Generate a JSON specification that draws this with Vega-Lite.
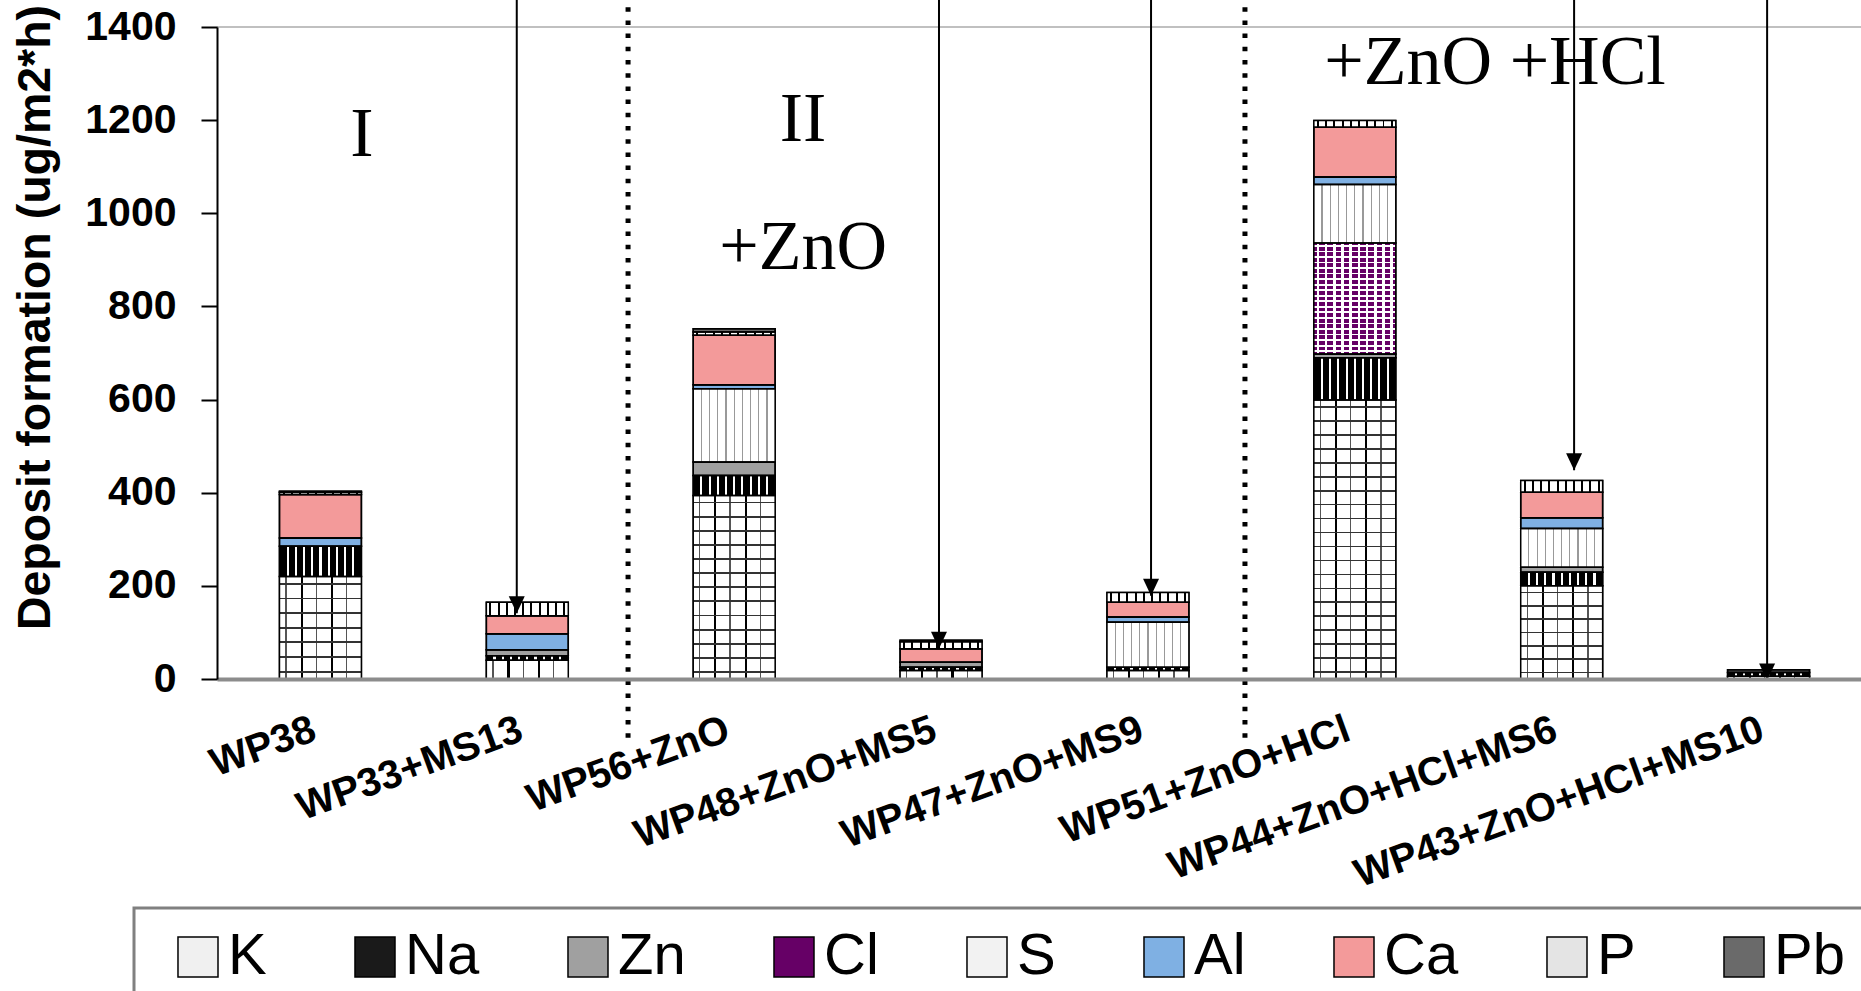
{
"$schema": "https://vega.github.io/schema/vega-lite/v6.json",
"width": 1644, "height": 652,
"autosize": {"type": "none"},
"padding": {"left": 217, "top": 27, "right": 0, "bottom": 312},
"background": "white",
"config": {"view": {"stroke": null}, "font": "Liberation Sans"},
"resolve": {"scale": {"x": "independent"}},
"layer": [
{
"data": {"values": [
{"sample":"WP38","element":"K","value":220},
{"sample":"WP38","element":"Na","value":65},
{"sample":"WP38","element":"Al","value":18},
{"sample":"WP38","element":"Ca","value":93},
{"sample":"WP38","element":"P","value":5},
{"sample":"WP38","element":"Pb","value":2},
{"sample":"WP33+MS13","element":"K","value":40},
{"sample":"WP33+MS13","element":"Na","value":10},
{"sample":"WP33+MS13","element":"Zn","value":13},
{"sample":"WP33+MS13","element":"Al","value":34},
{"sample":"WP33+MS13","element":"Ca","value":39},
{"sample":"WP33+MS13","element":"P","value":29},
{"sample":"WP56+ZnO","element":"K","value":394},
{"sample":"WP56+ZnO","element":"Na","value":43},
{"sample":"WP56+ZnO","element":"Zn","value":29},
{"sample":"WP56+ZnO","element":"S","value":157},
{"sample":"WP56+ZnO","element":"Al","value":9},
{"sample":"WP56+ZnO","element":"Ca","value":106},
{"sample":"WP56+ZnO","element":"P","value":7},
{"sample":"WP56+ZnO","element":"Pb","value":7},
{"sample":"WP48+ZnO+MS5","element":"K","value":18},
{"sample":"WP48+ZnO+MS5","element":"Na","value":7},
{"sample":"WP48+ZnO+MS5","element":"Zn","value":11},
{"sample":"WP48+ZnO+MS5","element":"Ca","value":29},
{"sample":"WP48+ZnO+MS5","element":"P","value":15},
{"sample":"WP48+ZnO+MS5","element":"Pb","value":3},
{"sample":"WP47+ZnO+MS9","element":"K","value":18},
{"sample":"WP47+ZnO+MS9","element":"Na","value":7},
{"sample":"WP47+ZnO+MS9","element":"S","value":97},
{"sample":"WP47+ZnO+MS9","element":"Al","value":11},
{"sample":"WP47+ZnO+MS9","element":"Ca","value":32},
{"sample":"WP47+ZnO+MS9","element":"P","value":21},
{"sample":"WP51+ZnO+HCl","element":"K","value":599},
{"sample":"WP51+ZnO+HCl","element":"Na","value":91},
{"sample":"WP51+ZnO+HCl","element":"Zn","value":8},
{"sample":"WP51+ZnO+HCl","element":"Cl","value":238},
{"sample":"WP51+ZnO+HCl","element":"S","value":126},
{"sample":"WP51+ZnO+HCl","element":"Al","value":16},
{"sample":"WP51+ZnO+HCl","element":"Ca","value":107},
{"sample":"WP51+ZnO+HCl","element":"P","value":14},
{"sample":"WP44+ZnO+HCl+MS6","element":"K","value":200},
{"sample":"WP44+ZnO+HCl+MS6","element":"Na","value":29},
{"sample":"WP44+ZnO+HCl+MS6","element":"Zn","value":11},
{"sample":"WP44+ZnO+HCl+MS6","element":"S","value":83},
{"sample":"WP44+ZnO+HCl+MS6","element":"Al","value":23},
{"sample":"WP44+ZnO+HCl+MS6","element":"Ca","value":55},
{"sample":"WP44+ZnO+HCl+MS6","element":"P","value":25},
{"sample":"WP43+ZnO+HCl+MS10","element":"K","value":6},
{"sample":"WP43+ZnO+HCl+MS10","element":"Na","value":8},
{"sample":"WP43+ZnO+HCl+MS10","element":"Pb","value":6}
]},
"transform": [{"stack": "value", "groupby": ["sample"], "as": ["y0", "y1"]}],
"layer": [
{
"mark": {"type": "bar", "stroke": "black", "strokeWidth": 1.5},
"encoding": {
"x": {"field": "sample", "type": "nominal",
 "scale": {"domain": ["WP38","WP33+MS13","WP56+ZnO","WP48+ZnO+MS5","WP47+ZnO+MS9","WP51+ZnO+HCl","WP44+ZnO+HCl+MS6","WP43+ZnO+HCl+MS10"], "range": [0, 1655], "paddingInner": 0.604, "paddingOuter": 0.302},
 "axis": {"title": null, "labelAngle": -20, "labelAlign": "right", "labelBaseline": "top", "labelPadding": 30, "labelOffset": -13, "ticks": false, "tickSize": 0, "domainColor": "#8c8c8c", "domainWidth": 4, "labelFont": "Liberation Sans", "labelFontWeight": "bold", "labelFontSize": 40, "labelColor": "black", "labelLimit": 1000, "labelOverlap": false, "grid": false, "zindex": 1}},
"y": {"field": "y0", "type": "quantitative", "scale": {"domain": [0, 1400], "nice": false},
 "axis": {"title": "Deposit formation (ug/m2*h)", "values": [0,200,400,600,800,1000,1200,1400], "format": "d", "grid": false, "domain": true, "domainColor": "black", "domainWidth": 2, "ticks": true, "tickColor": "black", "tickWidth": 2, "tickSize": 16, "labelPadding": 25, "labelFont": "Liberation Sans", "labelFontWeight": "bold", "labelFontSize": 41, "labelColor": "black", "titleFont": "Liberation Sans", "titleFontWeight": "bold", "titleFontSize": 46.5, "titleColor": "black", "titleX": -168, "titleY": 290, "titleBaseline": "alphabetic", "titleAlign": "center", "titleAngle": 270, "zindex": 1}},
"y2": {"field": "y1"},
"color": {"field": "element", "type": "nominal",
 "scale": {"domain": ["K","Na","Zn","Cl","S","Al","Ca","P","Pb"], "range": ["#f0f0f0","#1a1a1a","#a0a0a0","#660066","#f2f2f2","#7fb0e3","#f39a9a","#e4e4e4","#6a6a6a"]},
 "legend": {"orient": "none", "legendX": -83, "legendY": 881, "direction": "horizontal", "title": null,
  "symbolType": "M-0.179,-0.714H1.25V0.714H-0.179Z", "symbolSize": 3136, "symbolStrokeColor": "black", "symbolStrokeWidth": 1.5, "symbolOpacity": 1,
  "labelFont": "Liberation Sans", "labelFontSize": 58, "labelColor": "black", "labelOffset": 16, "labelLimit": 500,
  "columnPadding": 64, "padding": 20, "strokeColor": "#808080", "fillColor": "white",
  "encode": {"legend": {"update": {"strokeWidth": {"value": 3}}}}}}
}
},
{
"transform": [{"filter": {"field": "element", "equal": "K"}}],
"mark": {"type": "bar", "fill": {"gradient": "linear", "x1": 0, "y1": 0, "x2": 1, "y2": 0, "stops": [
{"offset":0,"color":"#fff"},
{"offset":0.072,"color":"#fff"},{"offset":0.072,"color":"#555"},{"offset":0.088,"color":"#555"},{"offset":0.088,"color":"#fff"},
{"offset":0.257,"color":"#fff"},{"offset":0.257,"color":"#000"},{"offset":0.283,"color":"#000"},{"offset":0.283,"color":"#fff"},
{"offset":0.442,"color":"#fff"},{"offset":0.442,"color":"#555"},{"offset":0.458,"color":"#555"},{"offset":0.458,"color":"#fff"},
{"offset":0.627,"color":"#fff"},{"offset":0.627,"color":"#000"},{"offset":0.653,"color":"#000"},{"offset":0.653,"color":"#fff"},
{"offset":0.812,"color":"#fff"},{"offset":0.812,"color":"#555"},{"offset":0.828,"color":"#555"},{"offset":0.828,"color":"#fff"},
{"offset":1,"color":"#fff"}]}},
"encoding": {
"x": {"field": "sample", "type": "nominal", "scale": {"domain": ["WP38","WP33+MS13","WP56+ZnO","WP48+ZnO+MS5","WP47+ZnO+MS9","WP51+ZnO+HCl","WP44+ZnO+HCl+MS6","WP43+ZnO+HCl+MS10"], "range": [0, 1655], "paddingInner": 0.604, "paddingOuter": 0.302}},
"y": {"field": "y0", "type": "quantitative", "scale": {"domain": [0, 1400], "nice": false}},
"y2": {"field": "y1"}}
},
{
"transform": [{"filter": {"and": [{"field": "element", "equal": "K"}, {"field": "sample", "equal": "WP51+ZnO+HCl"}]}}],
"mark": {"type": "bar", "fill": {"gradient": "linear", "x1": 0, "y1": 0, "x2": 0, "y2": 1, "stops": [
{"offset":0,"color":"rgba(0,0,0,0)"},
{"offset":0.022,"color":"rgba(0,0,0,0)"},{"offset":0.022,"color":"#333"},{"offset":0.028,"color":"#333"},{"offset":0.028,"color":"rgba(0,0,0,0)"},
{"offset":0.072,"color":"rgba(0,0,0,0)"},{"offset":0.072,"color":"#333"},{"offset":0.078,"color":"#333"},{"offset":0.078,"color":"rgba(0,0,0,0)"},
{"offset":0.122,"color":"rgba(0,0,0,0)"},{"offset":0.122,"color":"#333"},{"offset":0.128,"color":"#333"},{"offset":0.128,"color":"rgba(0,0,0,0)"},
{"offset":0.172,"color":"rgba(0,0,0,0)"},{"offset":0.172,"color":"#333"},{"offset":0.178,"color":"#333"},{"offset":0.178,"color":"rgba(0,0,0,0)"},
{"offset":0.222,"color":"rgba(0,0,0,0)"},{"offset":0.222,"color":"#333"},{"offset":0.228,"color":"#333"},{"offset":0.228,"color":"rgba(0,0,0,0)"},
{"offset":0.272,"color":"rgba(0,0,0,0)"},{"offset":0.272,"color":"#333"},{"offset":0.278,"color":"#333"},{"offset":0.278,"color":"rgba(0,0,0,0)"},
{"offset":0.322,"color":"rgba(0,0,0,0)"},{"offset":0.322,"color":"#333"},{"offset":0.328,"color":"#333"},{"offset":0.328,"color":"rgba(0,0,0,0)"},
{"offset":0.372,"color":"rgba(0,0,0,0)"},{"offset":0.372,"color":"#333"},{"offset":0.378,"color":"#333"},{"offset":0.378,"color":"rgba(0,0,0,0)"},
{"offset":0.422,"color":"rgba(0,0,0,0)"},{"offset":0.422,"color":"#333"},{"offset":0.428,"color":"#333"},{"offset":0.428,"color":"rgba(0,0,0,0)"},
{"offset":0.472,"color":"rgba(0,0,0,0)"},{"offset":0.472,"color":"#333"},{"offset":0.478,"color":"#333"},{"offset":0.478,"color":"rgba(0,0,0,0)"},
{"offset":0.522,"color":"rgba(0,0,0,0)"},{"offset":0.522,"color":"#333"},{"offset":0.528,"color":"#333"},{"offset":0.528,"color":"rgba(0,0,0,0)"},
{"offset":0.572,"color":"rgba(0,0,0,0)"},{"offset":0.572,"color":"#333"},{"offset":0.578,"color":"#333"},{"offset":0.578,"color":"rgba(0,0,0,0)"},
{"offset":0.622,"color":"rgba(0,0,0,0)"},{"offset":0.622,"color":"#333"},{"offset":0.628,"color":"#333"},{"offset":0.628,"color":"rgba(0,0,0,0)"},
{"offset":0.672,"color":"rgba(0,0,0,0)"},{"offset":0.672,"color":"#333"},{"offset":0.678,"color":"#333"},{"offset":0.678,"color":"rgba(0,0,0,0)"},
{"offset":0.722,"color":"rgba(0,0,0,0)"},{"offset":0.722,"color":"#333"},{"offset":0.728,"color":"#333"},{"offset":0.728,"color":"rgba(0,0,0,0)"},
{"offset":0.772,"color":"rgba(0,0,0,0)"},{"offset":0.772,"color":"#333"},{"offset":0.778,"color":"#333"},{"offset":0.778,"color":"rgba(0,0,0,0)"},
{"offset":0.822,"color":"rgba(0,0,0,0)"},{"offset":0.822,"color":"#333"},{"offset":0.828,"color":"#333"},{"offset":0.828,"color":"rgba(0,0,0,0)"},
{"offset":0.872,"color":"rgba(0,0,0,0)"},{"offset":0.872,"color":"#333"},{"offset":0.878,"color":"#333"},{"offset":0.878,"color":"rgba(0,0,0,0)"},
{"offset":0.922,"color":"rgba(0,0,0,0)"},{"offset":0.922,"color":"#333"},{"offset":0.928,"color":"#333"},{"offset":0.928,"color":"rgba(0,0,0,0)"},
{"offset":0.972,"color":"rgba(0,0,0,0)"},{"offset":0.972,"color":"#333"},{"offset":0.978,"color":"#333"},{"offset":0.978,"color":"rgba(0,0,0,0)"},
{"offset":1,"color":"rgba(0,0,0,0)"}]}},
"encoding": {
"x": {"field": "sample", "type": "nominal", "scale": {"domain": ["WP38","WP33+MS13","WP56+ZnO","WP48+ZnO+MS5","WP47+ZnO+MS9","WP51+ZnO+HCl","WP44+ZnO+HCl+MS6","WP43+ZnO+HCl+MS10"], "range": [0, 1655], "paddingInner": 0.604, "paddingOuter": 0.302}},
"y": {"field": "y0", "type": "quantitative", "scale": {"domain": [0, 1400], "nice": false}},
"y2": {"field": "y1"}}
},
{
"transform": [{"filter": {"and": [{"field": "element", "equal": "K"}, {"field": "sample", "equal": "WP56+ZnO"}]}}],
"mark": {"type": "bar", "fill": {"gradient": "linear", "x1": 0, "y1": 0, "x2": 0, "y2": 1, "stops": [
{"offset":0,"color":"rgba(0,0,0,0)"},
{"offset":0.0335,"color":"rgba(0,0,0,0)"},{"offset":0.0335,"color":"#333"},{"offset":0.0435,"color":"#333"},{"offset":0.0435,"color":"rgba(0,0,0,0)"},
{"offset":0.1104,"color":"rgba(0,0,0,0)"},{"offset":0.1104,"color":"#333"},{"offset":0.1204,"color":"#333"},{"offset":0.1204,"color":"rgba(0,0,0,0)"},
{"offset":0.1873,"color":"rgba(0,0,0,0)"},{"offset":0.1873,"color":"#333"},{"offset":0.1973,"color":"#333"},{"offset":0.1973,"color":"rgba(0,0,0,0)"},
{"offset":0.2642,"color":"rgba(0,0,0,0)"},{"offset":0.2642,"color":"#333"},{"offset":0.2742,"color":"#333"},{"offset":0.2742,"color":"rgba(0,0,0,0)"},
{"offset":0.3412,"color":"rgba(0,0,0,0)"},{"offset":0.3412,"color":"#333"},{"offset":0.3512,"color":"#333"},{"offset":0.3512,"color":"rgba(0,0,0,0)"},
{"offset":0.4181,"color":"rgba(0,0,0,0)"},{"offset":0.4181,"color":"#333"},{"offset":0.4281,"color":"#333"},{"offset":0.4281,"color":"rgba(0,0,0,0)"},
{"offset":0.495,"color":"rgba(0,0,0,0)"},{"offset":0.495,"color":"#333"},{"offset":0.505,"color":"#333"},{"offset":0.505,"color":"rgba(0,0,0,0)"},
{"offset":0.5719,"color":"rgba(0,0,0,0)"},{"offset":0.5719,"color":"#333"},{"offset":0.5819,"color":"#333"},{"offset":0.5819,"color":"rgba(0,0,0,0)"},
{"offset":0.6488,"color":"rgba(0,0,0,0)"},{"offset":0.6488,"color":"#333"},{"offset":0.6588,"color":"#333"},{"offset":0.6588,"color":"rgba(0,0,0,0)"},
{"offset":0.7258,"color":"rgba(0,0,0,0)"},{"offset":0.7258,"color":"#333"},{"offset":0.7358,"color":"#333"},{"offset":0.7358,"color":"rgba(0,0,0,0)"},
{"offset":0.8027,"color":"rgba(0,0,0,0)"},{"offset":0.8027,"color":"#333"},{"offset":0.8127,"color":"#333"},{"offset":0.8127,"color":"rgba(0,0,0,0)"},
{"offset":0.8796,"color":"rgba(0,0,0,0)"},{"offset":0.8796,"color":"#333"},{"offset":0.8896,"color":"#333"},{"offset":0.8896,"color":"rgba(0,0,0,0)"},
{"offset":0.9565,"color":"rgba(0,0,0,0)"},{"offset":0.9565,"color":"#333"},{"offset":0.9665,"color":"#333"},{"offset":0.9665,"color":"rgba(0,0,0,0)"},
{"offset":1,"color":"rgba(0,0,0,0)"}]}},
"encoding": {
"x": {"field": "sample", "type": "nominal", "scale": {"domain": ["WP38","WP33+MS13","WP56+ZnO","WP48+ZnO+MS5","WP47+ZnO+MS9","WP51+ZnO+HCl","WP44+ZnO+HCl+MS6","WP43+ZnO+HCl+MS10"], "range": [0, 1655], "paddingInner": 0.604, "paddingOuter": 0.302}},
"y": {"field": "y0", "type": "quantitative", "scale": {"domain": [0, 1400], "nice": false}},
"y2": {"field": "y1"}}
},
{
"transform": [{"filter": {"and": [{"field": "element", "equal": "K"}, {"field": "sample", "oneOf": ["WP38", "WP44+ZnO+HCl+MS6"]}]}}],
"mark": {"type": "bar", "fill": {"gradient": "linear", "x1": 0, "y1": 0, "x2": 0, "y2": 1, "stops": [
{"offset":0,"color":"rgba(0,0,0,0)"},
{"offset":0.0624,"color":"rgba(0,0,0,0)"},{"offset":0.0624,"color":"#333"},{"offset":0.0804,"color":"#333"},{"offset":0.0804,"color":"rgba(0,0,0,0)"},
{"offset":0.2053,"color":"rgba(0,0,0,0)"},{"offset":0.2053,"color":"#333"},{"offset":0.2233,"color":"#333"},{"offset":0.2233,"color":"rgba(0,0,0,0)"},
{"offset":0.3481,"color":"rgba(0,0,0,0)"},{"offset":0.3481,"color":"#333"},{"offset":0.3661,"color":"#333"},{"offset":0.3661,"color":"rgba(0,0,0,0)"},
{"offset":0.491,"color":"rgba(0,0,0,0)"},{"offset":0.491,"color":"#333"},{"offset":0.509,"color":"#333"},{"offset":0.509,"color":"rgba(0,0,0,0)"},
{"offset":0.6339,"color":"rgba(0,0,0,0)"},{"offset":0.6339,"color":"#333"},{"offset":0.6519,"color":"#333"},{"offset":0.6519,"color":"rgba(0,0,0,0)"},
{"offset":0.7767,"color":"rgba(0,0,0,0)"},{"offset":0.7767,"color":"#333"},{"offset":0.7947,"color":"#333"},{"offset":0.7947,"color":"rgba(0,0,0,0)"},
{"offset":0.9196,"color":"rgba(0,0,0,0)"},{"offset":0.9196,"color":"#333"},{"offset":0.9376,"color":"#333"},{"offset":0.9376,"color":"rgba(0,0,0,0)"},
{"offset":1,"color":"rgba(0,0,0,0)"}]}},
"encoding": {
"x": {"field": "sample", "type": "nominal", "scale": {"domain": ["WP38","WP33+MS13","WP56+ZnO","WP48+ZnO+MS5","WP47+ZnO+MS9","WP51+ZnO+HCl","WP44+ZnO+HCl+MS6","WP43+ZnO+HCl+MS10"], "range": [0, 1655], "paddingInner": 0.604, "paddingOuter": 0.302}},
"y": {"field": "y0", "type": "quantitative", "scale": {"domain": [0, 1400], "nice": false}},
"y2": {"field": "y1"}}
},
{
"transform": [{"filter": {"field": "element", "equal": "Na"}}],
"mark": {"type": "bar", "fill": {"gradient": "linear", "x1": 0, "y1": 0, "x2": 1, "y2": 0, "stops": [
{"offset":0,"color":"#000"},
{"offset":0.087,"color":"#000"},{"offset":0.087,"color":"#fff"},{"offset":0.113,"color":"#fff"},{"offset":0.113,"color":"#000"},
{"offset":0.187,"color":"#000"},{"offset":0.187,"color":"#fff"},{"offset":0.213,"color":"#fff"},{"offset":0.213,"color":"#000"},
{"offset":0.287,"color":"#000"},{"offset":0.287,"color":"#fff"},{"offset":0.313,"color":"#fff"},{"offset":0.313,"color":"#000"},
{"offset":0.387,"color":"#000"},{"offset":0.387,"color":"#fff"},{"offset":0.413,"color":"#fff"},{"offset":0.413,"color":"#000"},
{"offset":0.487,"color":"#000"},{"offset":0.487,"color":"#fff"},{"offset":0.513,"color":"#fff"},{"offset":0.513,"color":"#000"},
{"offset":0.587,"color":"#000"},{"offset":0.587,"color":"#fff"},{"offset":0.613,"color":"#fff"},{"offset":0.613,"color":"#000"},
{"offset":0.687,"color":"#000"},{"offset":0.687,"color":"#fff"},{"offset":0.713,"color":"#fff"},{"offset":0.713,"color":"#000"},
{"offset":0.787,"color":"#000"},{"offset":0.787,"color":"#fff"},{"offset":0.813,"color":"#fff"},{"offset":0.813,"color":"#000"},
{"offset":0.887,"color":"#000"},{"offset":0.887,"color":"#fff"},{"offset":0.913,"color":"#fff"},{"offset":0.913,"color":"#000"},
{"offset":1,"color":"#000"}]}},
"encoding": {
"x": {"field": "sample", "type": "nominal", "scale": {"domain": ["WP38","WP33+MS13","WP56+ZnO","WP48+ZnO+MS5","WP47+ZnO+MS9","WP51+ZnO+HCl","WP44+ZnO+HCl+MS6","WP43+ZnO+HCl+MS10"], "range": [0, 1655], "paddingInner": 0.604, "paddingOuter": 0.302}},
"y": {"field": "y0", "type": "quantitative", "scale": {"domain": [0, 1400], "nice": false}},
"y2": {"field": "y1"}}
},
{
"transform": [{"filter": {"field": "element", "equal": "Cl"}}],
"mark": {"type": "bar", "fill": {"gradient": "linear", "x1": 0, "y1": 0, "x2": 1, "y2": 0, "stops": [
{"offset":0,"color":"#660066"},
{"offset":0.035,"color":"#660066"},{"offset":0.035,"color":"#fff"},{"offset":0.065,"color":"#fff"},{"offset":0.065,"color":"#660066"},
{"offset":0.135,"color":"#660066"},{"offset":0.135,"color":"#fff"},{"offset":0.165,"color":"#fff"},{"offset":0.165,"color":"#660066"},
{"offset":0.235,"color":"#660066"},{"offset":0.235,"color":"#fff"},{"offset":0.265,"color":"#fff"},{"offset":0.265,"color":"#660066"},
{"offset":0.335,"color":"#660066"},{"offset":0.335,"color":"#fff"},{"offset":0.365,"color":"#fff"},{"offset":0.365,"color":"#660066"},
{"offset":0.435,"color":"#660066"},{"offset":0.435,"color":"#fff"},{"offset":0.465,"color":"#fff"},{"offset":0.465,"color":"#660066"},
{"offset":0.535,"color":"#660066"},{"offset":0.535,"color":"#fff"},{"offset":0.565,"color":"#fff"},{"offset":0.565,"color":"#660066"},
{"offset":0.635,"color":"#660066"},{"offset":0.635,"color":"#fff"},{"offset":0.665,"color":"#fff"},{"offset":0.665,"color":"#660066"},
{"offset":0.735,"color":"#660066"},{"offset":0.735,"color":"#fff"},{"offset":0.765,"color":"#fff"},{"offset":0.765,"color":"#660066"},
{"offset":0.835,"color":"#660066"},{"offset":0.835,"color":"#fff"},{"offset":0.865,"color":"#fff"},{"offset":0.865,"color":"#660066"},
{"offset":0.935,"color":"#660066"},{"offset":0.935,"color":"#fff"},{"offset":0.965,"color":"#fff"},{"offset":0.965,"color":"#660066"},
{"offset":1,"color":"#660066"}]}},
"encoding": {
"x": {"field": "sample", "type": "nominal", "scale": {"domain": ["WP38","WP33+MS13","WP56+ZnO","WP48+ZnO+MS5","WP47+ZnO+MS9","WP51+ZnO+HCl","WP44+ZnO+HCl+MS6","WP43+ZnO+HCl+MS10"], "range": [0, 1655], "paddingInner": 0.604, "paddingOuter": 0.302}},
"y": {"field": "y0", "type": "quantitative", "scale": {"domain": [0, 1400], "nice": false}},
"y2": {"field": "y1"}}
},
{
"transform": [{"filter": {"field": "element", "equal": "Cl"}}],
"mark": {"type": "bar", "fill": {"gradient": "linear", "x1": 0, "y1": 0, "x2": 0, "y2": 1, "stops": [
{"offset":0,"color":"rgba(255,255,255,0)"},
{"offset":0.017,"color":"rgba(255,255,255,0)"},{"offset":0.017,"color":"#fff"},{"offset":0.033,"color":"#fff"},{"offset":0.033,"color":"rgba(255,255,255,0)"},
{"offset":0.067,"color":"rgba(255,255,255,0)"},{"offset":0.067,"color":"#fff"},{"offset":0.083,"color":"#fff"},{"offset":0.083,"color":"rgba(255,255,255,0)"},
{"offset":0.117,"color":"rgba(255,255,255,0)"},{"offset":0.117,"color":"#fff"},{"offset":0.133,"color":"#fff"},{"offset":0.133,"color":"rgba(255,255,255,0)"},
{"offset":0.167,"color":"rgba(255,255,255,0)"},{"offset":0.167,"color":"#fff"},{"offset":0.183,"color":"#fff"},{"offset":0.183,"color":"rgba(255,255,255,0)"},
{"offset":0.217,"color":"rgba(255,255,255,0)"},{"offset":0.217,"color":"#fff"},{"offset":0.233,"color":"#fff"},{"offset":0.233,"color":"rgba(255,255,255,0)"},
{"offset":0.267,"color":"rgba(255,255,255,0)"},{"offset":0.267,"color":"#fff"},{"offset":0.283,"color":"#fff"},{"offset":0.283,"color":"rgba(255,255,255,0)"},
{"offset":0.317,"color":"rgba(255,255,255,0)"},{"offset":0.317,"color":"#fff"},{"offset":0.333,"color":"#fff"},{"offset":0.333,"color":"rgba(255,255,255,0)"},
{"offset":0.367,"color":"rgba(255,255,255,0)"},{"offset":0.367,"color":"#fff"},{"offset":0.383,"color":"#fff"},{"offset":0.383,"color":"rgba(255,255,255,0)"},
{"offset":0.417,"color":"rgba(255,255,255,0)"},{"offset":0.417,"color":"#fff"},{"offset":0.433,"color":"#fff"},{"offset":0.433,"color":"rgba(255,255,255,0)"},
{"offset":0.467,"color":"rgba(255,255,255,0)"},{"offset":0.467,"color":"#fff"},{"offset":0.483,"color":"#fff"},{"offset":0.483,"color":"rgba(255,255,255,0)"},
{"offset":0.517,"color":"rgba(255,255,255,0)"},{"offset":0.517,"color":"#fff"},{"offset":0.533,"color":"#fff"},{"offset":0.533,"color":"rgba(255,255,255,0)"},
{"offset":0.567,"color":"rgba(255,255,255,0)"},{"offset":0.567,"color":"#fff"},{"offset":0.583,"color":"#fff"},{"offset":0.583,"color":"rgba(255,255,255,0)"},
{"offset":0.617,"color":"rgba(255,255,255,0)"},{"offset":0.617,"color":"#fff"},{"offset":0.633,"color":"#fff"},{"offset":0.633,"color":"rgba(255,255,255,0)"},
{"offset":0.667,"color":"rgba(255,255,255,0)"},{"offset":0.667,"color":"#fff"},{"offset":0.683,"color":"#fff"},{"offset":0.683,"color":"rgba(255,255,255,0)"},
{"offset":0.717,"color":"rgba(255,255,255,0)"},{"offset":0.717,"color":"#fff"},{"offset":0.733,"color":"#fff"},{"offset":0.733,"color":"rgba(255,255,255,0)"},
{"offset":0.767,"color":"rgba(255,255,255,0)"},{"offset":0.767,"color":"#fff"},{"offset":0.783,"color":"#fff"},{"offset":0.783,"color":"rgba(255,255,255,0)"},
{"offset":0.817,"color":"rgba(255,255,255,0)"},{"offset":0.817,"color":"#fff"},{"offset":0.833,"color":"#fff"},{"offset":0.833,"color":"rgba(255,255,255,0)"},
{"offset":0.867,"color":"rgba(255,255,255,0)"},{"offset":0.867,"color":"#fff"},{"offset":0.883,"color":"#fff"},{"offset":0.883,"color":"rgba(255,255,255,0)"},
{"offset":0.917,"color":"rgba(255,255,255,0)"},{"offset":0.917,"color":"#fff"},{"offset":0.933,"color":"#fff"},{"offset":0.933,"color":"rgba(255,255,255,0)"},
{"offset":0.967,"color":"rgba(255,255,255,0)"},{"offset":0.967,"color":"#fff"},{"offset":0.983,"color":"#fff"},{"offset":0.983,"color":"rgba(255,255,255,0)"},
{"offset":1,"color":"rgba(255,255,255,0)"}]}},
"encoding": {
"x": {"field": "sample", "type": "nominal", "scale": {"domain": ["WP38","WP33+MS13","WP56+ZnO","WP48+ZnO+MS5","WP47+ZnO+MS9","WP51+ZnO+HCl","WP44+ZnO+HCl+MS6","WP43+ZnO+HCl+MS10"], "range": [0, 1655], "paddingInner": 0.604, "paddingOuter": 0.302}},
"y": {"field": "y0", "type": "quantitative", "scale": {"domain": [0, 1400], "nice": false}},
"y2": {"field": "y1"}}
},
{
"transform": [{"filter": {"field": "element", "equal": "S"}}],
"mark": {"type": "bar", "fill": {"gradient": "linear", "x1": 0, "y1": 0, "x2": 1, "y2": 0, "stops": [
{"offset":0,"color":"#fff"},
{"offset":0.093,"color":"#fff"},{"offset":0.093,"color":"#999"},{"offset":0.107,"color":"#999"},{"offset":0.107,"color":"#fff"},
{"offset":0.193,"color":"#fff"},{"offset":0.193,"color":"#999"},{"offset":0.207,"color":"#999"},{"offset":0.207,"color":"#fff"},
{"offset":0.293,"color":"#fff"},{"offset":0.293,"color":"#999"},{"offset":0.307,"color":"#999"},{"offset":0.307,"color":"#fff"},
{"offset":0.393,"color":"#fff"},{"offset":0.393,"color":"#999"},{"offset":0.407,"color":"#999"},{"offset":0.407,"color":"#fff"},
{"offset":0.493,"color":"#fff"},{"offset":0.493,"color":"#999"},{"offset":0.507,"color":"#999"},{"offset":0.507,"color":"#fff"},
{"offset":0.593,"color":"#fff"},{"offset":0.593,"color":"#999"},{"offset":0.607,"color":"#999"},{"offset":0.607,"color":"#fff"},
{"offset":0.693,"color":"#fff"},{"offset":0.693,"color":"#999"},{"offset":0.707,"color":"#999"},{"offset":0.707,"color":"#fff"},
{"offset":0.793,"color":"#fff"},{"offset":0.793,"color":"#999"},{"offset":0.807,"color":"#999"},{"offset":0.807,"color":"#fff"},
{"offset":0.893,"color":"#fff"},{"offset":0.893,"color":"#999"},{"offset":0.907,"color":"#999"},{"offset":0.907,"color":"#fff"},
{"offset":1,"color":"#fff"}]}},
"encoding": {
"x": {"field": "sample", "type": "nominal", "scale": {"domain": ["WP38","WP33+MS13","WP56+ZnO","WP48+ZnO+MS5","WP47+ZnO+MS9","WP51+ZnO+HCl","WP44+ZnO+HCl+MS6","WP43+ZnO+HCl+MS10"], "range": [0, 1655], "paddingInner": 0.604, "paddingOuter": 0.302}},
"y": {"field": "y0", "type": "quantitative", "scale": {"domain": [0, 1400], "nice": false}},
"y2": {"field": "y1"}}
},
{
"transform": [{"filter": {"field": "element", "equal": "P"}}],
"mark": {"type": "bar", "fill": {"gradient": "linear", "x1": 0, "y1": 0, "x2": 1, "y2": 0, "stops": [
{"offset":0,"color":"#fff"},
{"offset":0.038,"color":"#fff"},{"offset":0.038,"color":"#000"},{"offset":0.062,"color":"#000"},{"offset":0.062,"color":"#fff"},
{"offset":0.138,"color":"#fff"},{"offset":0.138,"color":"#000"},{"offset":0.162,"color":"#000"},{"offset":0.162,"color":"#fff"},
{"offset":0.238,"color":"#fff"},{"offset":0.238,"color":"#000"},{"offset":0.262,"color":"#000"},{"offset":0.262,"color":"#fff"},
{"offset":0.338,"color":"#fff"},{"offset":0.338,"color":"#000"},{"offset":0.362,"color":"#000"},{"offset":0.362,"color":"#fff"},
{"offset":0.438,"color":"#fff"},{"offset":0.438,"color":"#000"},{"offset":0.462,"color":"#000"},{"offset":0.462,"color":"#fff"},
{"offset":0.538,"color":"#fff"},{"offset":0.538,"color":"#000"},{"offset":0.562,"color":"#000"},{"offset":0.562,"color":"#fff"},
{"offset":0.638,"color":"#fff"},{"offset":0.638,"color":"#000"},{"offset":0.662,"color":"#000"},{"offset":0.662,"color":"#fff"},
{"offset":0.738,"color":"#fff"},{"offset":0.738,"color":"#000"},{"offset":0.762,"color":"#000"},{"offset":0.762,"color":"#fff"},
{"offset":0.838,"color":"#fff"},{"offset":0.838,"color":"#000"},{"offset":0.862,"color":"#000"},{"offset":0.862,"color":"#fff"},
{"offset":0.938,"color":"#fff"},{"offset":0.938,"color":"#000"},{"offset":0.962,"color":"#000"},{"offset":0.962,"color":"#fff"},
{"offset":1,"color":"#fff"}]}},
"encoding": {
"x": {"field": "sample", "type": "nominal", "scale": {"domain": ["WP38","WP33+MS13","WP56+ZnO","WP48+ZnO+MS5","WP47+ZnO+MS9","WP51+ZnO+HCl","WP44+ZnO+HCl+MS6","WP43+ZnO+HCl+MS10"], "range": [0, 1655], "paddingInner": 0.604, "paddingOuter": 0.302}},
"y": {"field": "y0", "type": "quantitative", "scale": {"domain": [0, 1400], "nice": false}},
"y2": {"field": "y1"}}
},
{
"mark": {"type": "bar", "fillOpacity": 0, "stroke": "black", "strokeWidth": 1.5},
"encoding": {
"x": {"field": "sample", "type": "nominal", "scale": {"domain": ["WP38","WP33+MS13","WP56+ZnO","WP48+ZnO+MS5","WP47+ZnO+MS9","WP51+ZnO+HCl","WP44+ZnO+HCl+MS6","WP43+ZnO+HCl+MS10"], "range": [0, 1655], "paddingInner": 0.604, "paddingOuter": 0.302}},
"y": {"field": "y0", "type": "quantitative", "scale": {"domain": [0, 1400], "nice": false}},
"y2": {"field": "y1"}}
}
]
},
{
"layer": [
{
"data": {"values": [{"level": 1400}]},
"mark": {"type": "rule", "color": "#c0c0c0", "strokeWidth": 2},
"encoding": {"y": {"field": "level", "type": "quantitative", "scale": {"domain": [0, 1400], "nice": false}}}
},
{
"data": {"values": [{"u": 1.987, "lo": -126, "hi": 1460}, {"u": 4.969, "lo": -126, "hi": 1460}]},
"mark": {"type": "rule", "color": "black", "strokeWidth": 5, "strokeDash": [4.5, 8.7]},
"encoding": {
"x": {"field": "u", "type": "quantitative", "scale": {"domain": [0, 8], "range": [0, 1655], "nice": false, "zero": false}, "axis": null},
"y": {"field": "lo", "type": "quantitative", "scale": {"domain": [0, 1400], "nice": false}},
"y2": {"field": "hi"}}
},
{
"data": {"values": [{"u": 1.449, "tip": 141, "top": 1460}, {"u": 3.490, "tip": 65, "top": 1460}, {"u": 4.515, "tip": 179, "top": 1460}, {"u": 6.560, "tip": 448, "top": 1460}, {"u": 7.493, "tip": -3, "top": 1460}]},
"layer": [
{
"mark": {"type": "rule", "color": "black", "strokeWidth": 2},
"encoding": {
"x": {"field": "u", "type": "quantitative", "scale": {"domain": [0, 8], "range": [0, 1655], "nice": false, "zero": false}, "axis": null},
"y": {"field": "tip", "type": "quantitative", "scale": {"domain": [0, 1400], "nice": false}},
"y2": {"field": "top"}}
},
{
"mark": {"type": "point", "shape": "M0,0L-0.47,-1L0.47,-1Z", "filled": true, "size": 1156, "color": "black", "opacity": 1},
"encoding": {
"x": {"field": "u", "type": "quantitative", "scale": {"domain": [0, 8], "range": [0, 1655], "nice": false, "zero": false}, "axis": null},
"y": {"field": "tip", "type": "quantitative", "scale": {"domain": [0, 1400], "nice": false}}}
}
]
},
{
"data": {"values": [{"t": "I", "u": 0.701, "v": 1122}, {"t": "II", "u": 2.833, "v": 1155}, {"t": "+ZnO", "u": 2.833, "v": 881}, {"t": "+ZnO +HCl", "u": 6.178, "v": 1277}]},
"mark": {"type": "text", "font": "Liberation Serif", "fontSize": 70, "align": "center", "baseline": "alphabetic", "color": "black"},
"encoding": {
"x": {"field": "u", "type": "quantitative", "scale": {"domain": [0, 8], "range": [0, 1655], "nice": false, "zero": false}, "axis": null},
"y": {"field": "v", "type": "quantitative", "scale": {"domain": [0, 1400], "nice": false}},
"text": {"field": "t"}}
}
]
}
]
}
